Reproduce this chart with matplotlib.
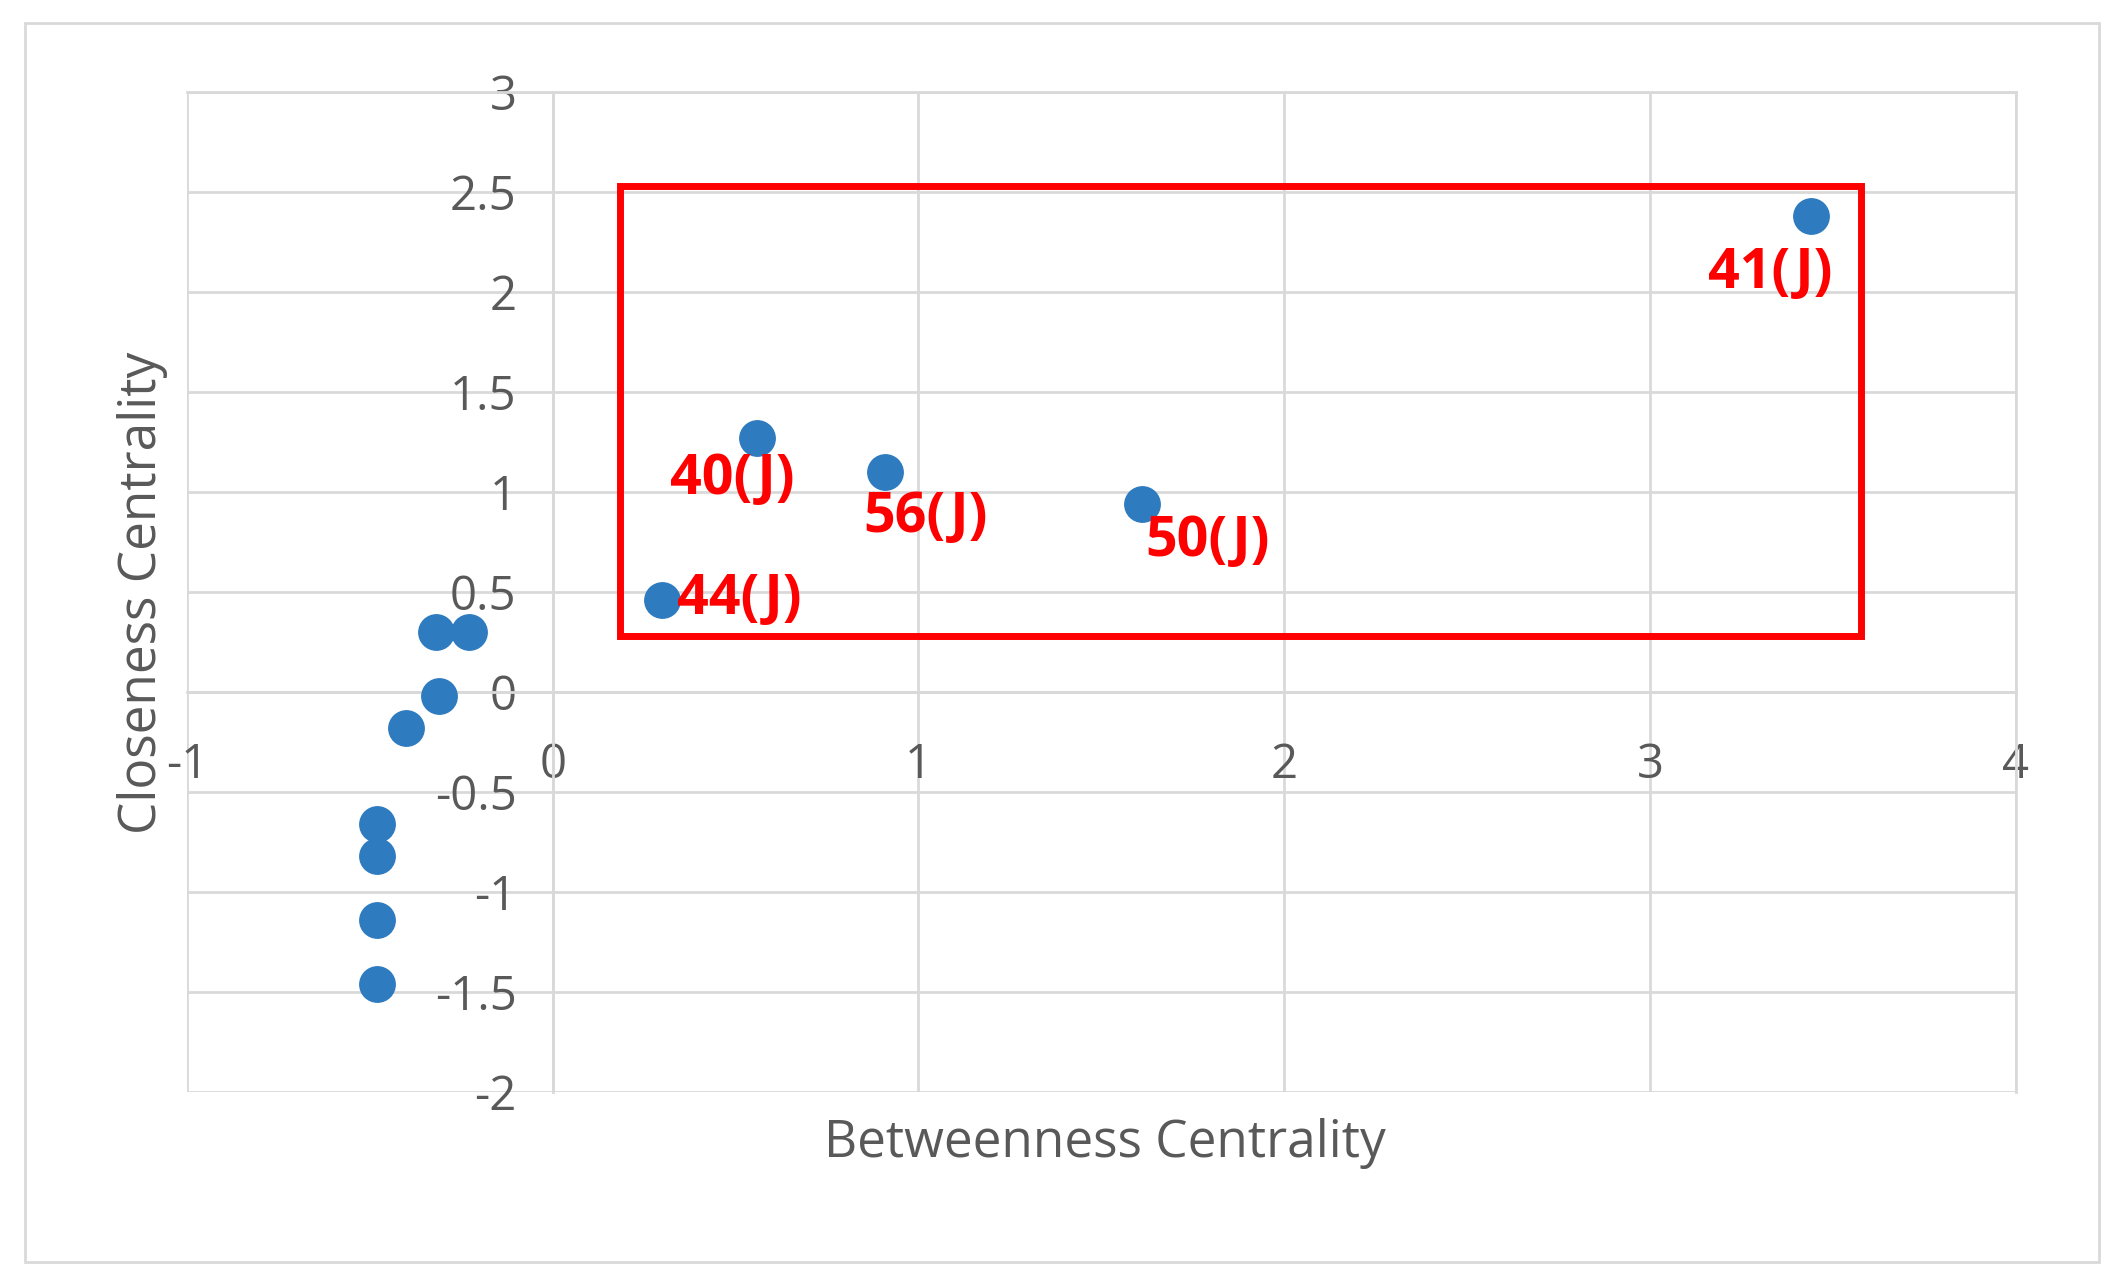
import matplotlib.pyplot as plt
from matplotlib.patches import Rectangle

plt.rcParams['font.family'] = ['Open Sans', 'DejaVu Sans']

# data
betweenness = [3.44, 0.56, 0.91, 1.61, 0.30, -0.32, -0.23, -0.31, -0.40,
               -0.48, -0.48, -0.48, -0.48]
closeness = [2.38, 1.27, 1.10, 0.94, 0.46, 0.30, 0.30, -0.02, -0.18,
             -0.66, -0.82, -1.14, -1.46]
label_text = ["41(J)", "40(J)", "56(J)", "50(J)", "44(J)"]
label_x = [3.33, 0.49, 1.02, 1.79, 0.51]
label_y = [2.09, 1.06, 0.87, 0.75, 0.46]
box = (0.185, 0.28, 3.578, 2.53)

fig = plt.figure(figsize=(21.24, 12.88), dpi=100)
ax = fig.add_axes([0.088, 0.1525, 0.861, 0.776])
ax.set_xlim(-1, 4)
ax.set_ylim(-2, 3)
ax.set_xticks(range(-1, 5))
ax.set_yticks([-2, -1.5, -1, -0.5, 0, 0.5, 1, 1.5, 2, 2.5, 3])
ax.grid(True, color='#d9d9d9', lw=2)
ax.set_axisbelow(True)
for s in ax.spines.values():
    s.set_color('#d9d9d9')
    s.set_linewidth(2)
ax.spines['left'].set_position(('data', 0))
ax.spines['bottom'].set_position(('data', 0))
ax.tick_params(length=0, labelsize=34, labelcolor='#595959')
ax.tick_params(axis='x', pad=36)
ax.tick_params(axis='y', pad=26)
ax.set_yticklabels(['-2', '-1.5', '-1', '-0.5', '0', '0.5', '1', '1.5', '2', '2.5', '3'])
ax.set_xticklabels(['-1', '0', '1', '2', '3', '4'])

ax.scatter(betweenness, closeness, s=650, color='#2e7bbf', zorder=3)

for t, x, y in zip(label_text, label_x, label_y):
    ax.text(x, y, t, color='#ff0000', fontsize=40, fontweight='bold',
            ha='center', va='center', zorder=4)

ax.add_patch(Rectangle((box[0], box[1]), box[2] - box[0], box[3] - box[1],
                       fill=False, edgecolor='#ff0000', lw=5, zorder=5))

fig.text(0.52, 0.112, 'Betweenness Centrality', fontsize=37, color='#595959',
         ha='center', va='center')
fig.text(0.067, 0.54, 'Closeness Centrality', fontsize=37, color='#595959',
         ha='center', va='center', rotation=90)

fig.add_artist(Rectangle((0.012, 0.02), 0.976, 0.962, transform=fig.transFigure,
                         fill=False, edgecolor='#d9d9d9', lw=2))

fig.savefig('out.png', dpi=100)
